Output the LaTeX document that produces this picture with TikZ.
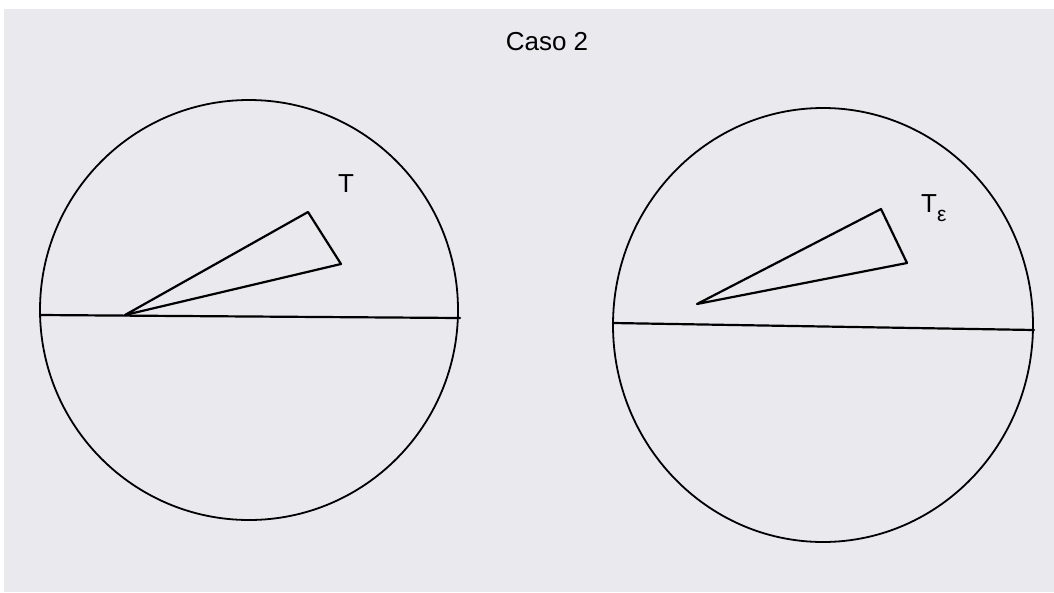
\documentclass[tikz,border=0pt]{standalone}
\usepackage{fontspec}
\setsansfont{Liberation Sans}
\definecolor{paper}{RGB}{233,233,238}
\tikzset{
  pen/.style={line width=2.2pt, black, line join=round, line cap=round},
  thin pen/.style={line width=1.8pt, black},
  lbl/.style={font=\sffamily\fontsize{26}{28}\selectfont, inner sep=0pt}
}
\begin{document}
\begin{tikzpicture}[x=1pt,y=-1pt]
\useasboundingbox (0,0) rectangle (1054,592);
\fill[white] (0,0) rectangle (1054,592);
\fill[paper] (4,9) rectangle (1054,592);
% title
\node[lbl] (title) at (547,42) {Caso 2};
% left circle
\draw[thin pen] (249,310) ellipse [x radius=209, y radius=210];
\coordinate (L1) at (40,315);
\coordinate (L2) at (460,318);
\draw[pen] (L1) -- (L2);
\coordinate (A) at (125,315);
\coordinate (B) at (308,212);
\coordinate (C) at (341,264);
\draw[pen] (A) -- (B) -- (C) -- cycle;
\node[lbl] (T) at (346,184) {T};
% right circle
\draw[thin pen] (823,325) ellipse [x radius=210, y radius=217];
\coordinate (R1) at (613,323);
\coordinate (R2) at (1034,330);
\draw[pen] (R1) -- (R2);
\coordinate (D) at (697,304);
\coordinate (E) at (881,209);
\coordinate (F) at (907,263);
\draw[pen] (D) -- (E) -- (F) -- cycle;
\node[lbl, anchor=north west] (Te) at (921,194) {T\raisebox{-9pt}{\fontsize{21}{23}\selectfont ε}};
\end{tikzpicture}
\end{document}
